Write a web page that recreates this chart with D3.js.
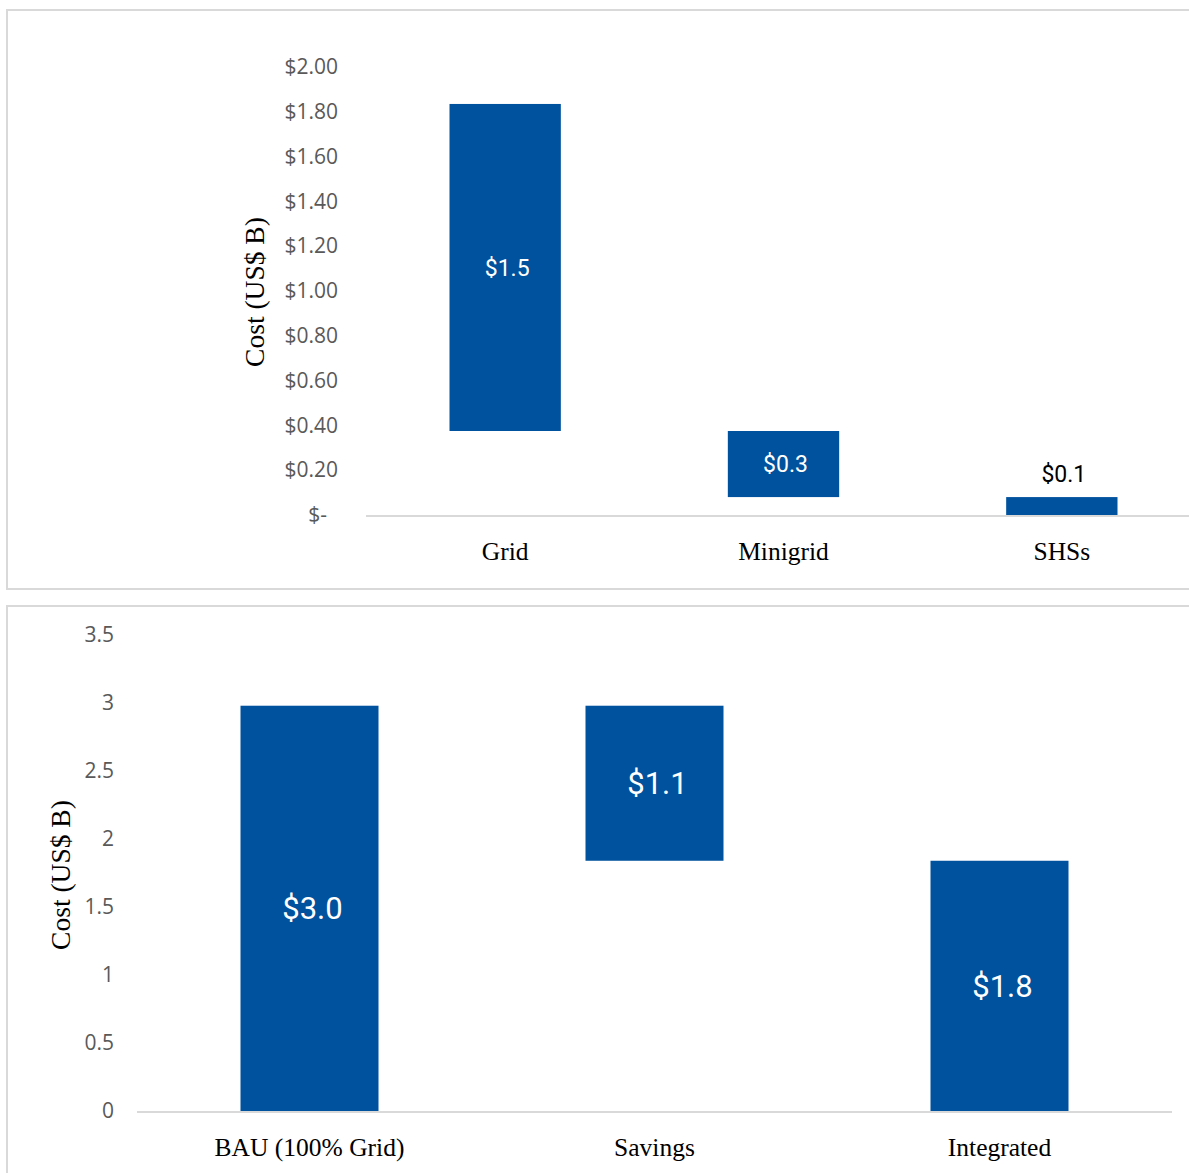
<!DOCTYPE html>
<html>
<head>
<meta charset="utf-8">
<script src="https://cdn.jsdelivr.net/npm/d3@7"></script>
<style>
  body { margin: 0; background: #fff; }
</style>
</head>
<body>
<div id="chart"></div>
<script>
// DATA
const topCategories = ["Grid", "Minigrid", "SHSs"];
const topValues = [1.46, 0.295, 0.08];
const topLabelPlace = ["inside", "inside", "above"];

const bottomCategories = ["BAU (100% Grid)", "Savings", "Integrated"];
const bottomLow = [0, 1.84, 0];
const bottomHigh = [2.98, 2.98, 1.84];

const W = 1189, H = 1173;
const barColor = "#00529e";
const tickColor = "#595959";
const lineColor = "#d9d9d9";
const serif = "'Liberation Serif', 'DejaVu Serif', serif";
const sans = "'Open Sans', 'Noto Sans', sans-serif";
const narrow = "'Liberation Sans Narrow', 'Roboto', sans-serif";

const svg = d3.select("#chart").append("svg")
  .attr("width", W).attr("height", H);

// panel frames
svg.append("rect").attr("x", 7).attr("y", 10).attr("width", 1200).attr("height", 579)
  .attr("fill", "none").attr("stroke", lineColor).attr("stroke-width", 2);
svg.append("rect").attr("x", 7).attr("y", 606).attr("width", 1200).attr("height", 600)
  .attr("fill", "none").attr("stroke", lineColor).attr("stroke-width", 2);

// ---------- TOP CHART (waterfall, descending) ----------
const topBase = topValues.map((v, i) => d3.sum(topValues.slice(i + 1)));
const topData = topCategories.map((c, i) => ({
  cat: c, low: topBase[i], high: topBase[i] + topValues[i], v: topValues[i], place: topLabelPlace[i]
}));

const x1 = d3.scaleBand().domain(topCategories).range([366, 1201])
  .paddingInner(0.6).paddingOuter(0.3);
const y1 = d3.scaleLinear().domain([0, 2]).range([515, 67]);

const yAxis1 = d3.axisLeft(y1).ticks(10).tickSize(0).tickPadding(0)
  .tickFormat(d => d === 0 ? "$-" : "$" + d3.format(".2f")(d));
const gy1 = svg.append("g").attr("transform", "translate(338,0)").call(yAxis1);
gy1.select(".domain").remove();
gy1.selectAll("text").attr("fill", tickColor).style("font-family", sans).style("font-size", "21px")
  .attr("dx", d => d === 0 ? -11 : 0);

svg.append("line").attr("x1", 366).attr("x2", 1201).attr("y1", y1(0) + 1).attr("y2", y1(0) + 1)
  .attr("stroke", lineColor).attr("stroke-width", 2);

svg.append("g").selectAll("rect").data(topData).join("rect")
  .attr("x", d => x1(d.cat)).attr("width", x1.bandwidth())
  .attr("y", d => y1(d.high)).attr("height", d => y1(d.low) - y1(d.high))
  .attr("fill", barColor);

svg.append("g").selectAll("text").data(topData).join("text")
  .attr("x", d => x1(d.cat) + x1.bandwidth() / 2 + 2)
  .attr("y", d => d.place === "inside" ? (y1(d.low) + y1(d.high)) / 2 : y1(d.high) - 23)
  .attr("dy", "0.35em").attr("text-anchor", "middle")
  .attr("fill", d => d.place === "inside" ? "#fff" : "#000")
  .style("font-family", narrow).style("font-size", "23px")
  .text(d => "$" + d3.format(".1f")(d.v));

svg.append("g").selectAll("text").data(topCategories).join("text")
  .attr("x", d => x1(d) + x1.bandwidth() / 2).attr("y", 551)
  .attr("dy", "0.35em").attr("text-anchor", "middle")
  .style("font-family", serif).style("font-size", "25.5px").attr("fill", "#000")
  .text(d => d);

svg.append("text")
  .attr("transform", "translate(254,292) rotate(-90)")
  .attr("text-anchor", "middle").attr("dy", "0.35em")
  .style("font-family", serif).style("font-size", "27.5px").attr("fill", "#000")
  .text("Cost (US$ B)");

// ---------- BOTTOM CHART ----------
const bottomData = bottomCategories.map((c, i) => ({ cat: c, low: bottomLow[i], high: bottomHigh[i] }));

const x2 = d3.scaleBand().domain(bottomCategories).range([137, 1172])
  .paddingInner(0.6).paddingOuter(0.3);
const y2 = d3.scaleLinear().domain([0, 3.5]).range([1111, 635]);

const yAxis2 = d3.axisLeft(y2).ticks(7).tickSize(0).tickPadding(0).tickFormat(d3.format("~g"));
const gy2 = svg.append("g").attr("transform", "translate(114,0)").call(yAxis2);
gy2.select(".domain").remove();
gy2.selectAll("text").attr("fill", tickColor).style("font-family", sans).style("font-size", "21px");

svg.append("line").attr("x1", 137).attr("x2", 1172).attr("y1", y2(0) + 1).attr("y2", y2(0) + 1)
  .attr("stroke", lineColor).attr("stroke-width", 2);

svg.append("g").selectAll("rect").data(bottomData).join("rect")
  .attr("x", d => x2(d.cat)).attr("width", x2.bandwidth())
  .attr("y", d => y2(d.high)).attr("height", d => y2(d.low) - y2(d.high))
  .attr("fill", barColor);

svg.append("g").selectAll("text").data(bottomData).join("text")
  .attr("x", d => x2(d.cat) + x2.bandwidth() / 2 + 3)
  .attr("y", d => (y2(d.low) + y2(d.high)) / 2)
  .attr("dy", "0.35em").attr("text-anchor", "middle").attr("fill", "#fff")
  .style("font-family", narrow).style("font-size", "31px")
  .text(d => "$" + d3.format(".1f")(d.high - d.low));

svg.append("g").selectAll("text").data(bottomCategories).join("text")
  .attr("x", d => x2(d) + x2.bandwidth() / 2).attr("y", 1147)
  .attr("dy", "0.35em").attr("text-anchor", "middle")
  .style("font-family", serif).style("font-size", "25.5px").attr("fill", "#000")
  .text(d => d);

svg.append("text")
  .attr("transform", "translate(60,875) rotate(-90)")
  .attr("text-anchor", "middle").attr("dy", "0.35em")
  .style("font-family", serif).style("font-size", "27.5px").attr("fill", "#000")
  .text("Cost (US$ B)");
</script>
</body>
</html>
